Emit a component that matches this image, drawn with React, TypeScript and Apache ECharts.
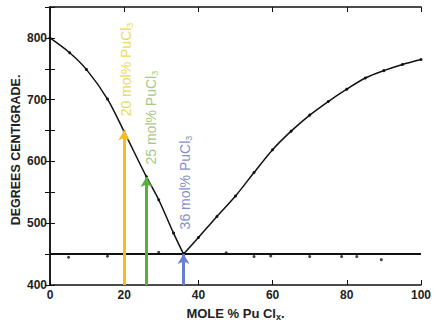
import React, { useEffect, useRef } from "react";
import * as echarts from "echarts";

// Liquidus, left branch: mole % PuCl3 vs °C
const LEFT_X = [0, 5.3, 9.8, 15.5, 20, 26, 29.3, 33.3, 36];
const LEFT_T = [800, 776, 749, 701, 648, 575, 538, 484, 450];
// Liquidus, right branch
const RIGHT_X = [36, 40, 45, 50, 55, 60, 65, 70, 75, 80, 85, 90, 95, 100];
const RIGHT_T = [450, 477, 511, 544, 582, 619, 649, 675, 697, 717, 735, 747, 757, 765];
// Eutectic line and measured points
const EUTECTIC_T = 450;
const EUT_X = [5, 15.5, 29.3, 47.5, 55, 59.5, 70, 78.6, 82.7, 89.3];
const EUT_T = [445, 446.5, 453, 452, 446, 447, 446, 446, 446, 441];
// Annotated compositions
const ARROW_X = [20, 26, 36];
const ARROW_TOP = [650, 575, 450];
const ARROW_NUM = ["20", "25", "36"];
const LABEL_ANCHOR_X = [20.5, 27.2, 36.5];
const LABEL_ANCHOR_T = [673, 595, 490];
const Y_TICK_LABELS = [400, 500, 600, 700, 800];
const Y_NAME = "DEGREES CENTIGRADE.";

const ARROW_COLORS = ["#F7BB1B", "#5AAE3C", "#6A7ED0"];
const TEXT_COLORS = ["#E6CF1E", "#8BB95C", "#5E6EC2"];

export default function App() {
  const ref = useRef<HTMLDivElement>(null);
  useEffect(() => {
    if (!ref.current) return;
    const chart = echarts.init(ref.current, null, { renderer: "svg" });
    const font = "'Liberation Sans', Arial, sans-serif";
    const axisLine = { show: true, lineStyle: { color: "#111", width: 1.5 } };
    const tick = { show: true, inside: true, length: 5, lineStyle: { color: "#111", width: 1 } };

    const labelData = ARROW_NUM.map((n, i) => ({
      value: [LABEL_ANCHOR_X[i], LABEL_ANCHOR_T[i]],
      label: {
        show: true,
        rotate: 90,
        position: "inside",
        align: "left",
        verticalAlign: "middle",
        formatter: `{a|${n} mol% PuCl}{s|3}`,
        rich: {
          a: { fontSize: 14, color: TEXT_COLORS[i], fontFamily: font, lineHeight: 17, verticalAlign: "middle" },
          s: { fontSize: 9, color: TEXT_COLORS[i], fontFamily: font, lineHeight: 8, verticalAlign: "bottom" },
        },
      },
    }));

    chart.setOption({
      animation: false,
      backgroundColor: "#ffffff",
      textStyle: { fontFamily: font },
      grid: { left: 50, right: 9, top: 7, bottom: 36 },
      graphic: [
        {
          type: "text",
          x: 16,
          y: 150,
          rotation: Math.PI / 2,
          style: {
            text: Y_NAME,
            font: `bold 12.5px ${font}`,
            fill: "#222",
            align: "center",
            verticalAlign: "middle",
          },
        },
      ],
      xAxis: [
        {
          type: "value",
          position: "bottom",
          min: 0,
          max: 100,
          interval: 20,
          axisLine,
          axisTick: tick,
          splitLine: { show: false },
          axisLabel: { fontSize: 12, fontWeight: "bold", color: "#222", margin: 4 },
          name: "MOLE % Pu Cl{s|x}.",
          nameLocation: "middle",
          nameGap: 20,
          nameTextStyle: {
            fontSize: 13,
            fontWeight: "bold",
            color: "#222",
            rich: { s: { fontSize: 9, fontWeight: "bold", color: "#222", padding: [7, 0, 0, 0] } },
          },
        },
        {
          type: "value",
          position: "top",
          min: 0,
          max: 100,
          interval: 20,
          axisLine,
          axisTick: tick,
          axisLabel: { show: false },
          splitLine: { show: false },
        },
      ],
      yAxis: [
        {
          type: "value",
          position: "left",
          min: 400,
          max: 850,
          interval: 50,
          axisLine,
          axisTick: tick,
          splitLine: { show: false },
          axisLabel: {
            fontSize: 12,
            fontWeight: "bold",
            color: "#222",
            margin: 3,
            formatter: (v: number) => (Y_TICK_LABELS.includes(v) ? String(v) : ""),
          },
        },
        {
          type: "value",
          position: "right",
          min: 400,
          max: 850,
          interval: 50,
          axisLine,
          axisTick: tick,
          axisLabel: { show: false },
          splitLine: { show: false },
        },
      ],
      series: [
        {
          type: "line",
          data: [[0, EUTECTIC_T], [100, EUTECTIC_T]],
          symbol: "none",
          lineStyle: { color: "#111", width: 2 },
          z: 3,
          markLine: {
            silent: true,
            symbol: ["none", "arrow"],
            symbolSize: [9, 10],
            label: { show: false },
            data: ARROW_X.map((x, i) => [
              { coord: [x, 400], lineStyle: { color: ARROW_COLORS[i], width: 3, type: "solid" } },
              { coord: [x, ARROW_TOP[i]] },
            ]),
          },
        },
        {
          type: "line",
          smooth: 0.3,
          data: LEFT_X.map((x, i) => [x, LEFT_T[i]]),
          symbol: "circle",
          symbolSize: 3,
          itemStyle: { color: "#111" },
          lineStyle: { color: "#111", width: 1.5 },
          z: 4,
        },
        {
          type: "line",
          smooth: 0.3,
          data: RIGHT_X.map((x, i) => [x, RIGHT_T[i]]),
          symbol: "circle",
          symbolSize: 3,
          itemStyle: { color: "#111" },
          lineStyle: { color: "#111", width: 1.5 },
          z: 4,
        },
        {
          type: "scatter",
          data: EUT_X.map((x, i) => [x, EUT_T[i]]),
          symbolSize: 3,
          itemStyle: { color: "#111" },
          z: 4,
        },
        {
          type: "scatter",
          data: labelData,
          symbolSize: 1,
          itemStyle: { color: "transparent" },
          z: 5,
        },
      ],
    });
    return () => chart.dispose();
  }, []);
  return <div ref={ref} style={{ width: 434, height: 326, position: "fixed", left: 0, top: 0 }} />;
}
